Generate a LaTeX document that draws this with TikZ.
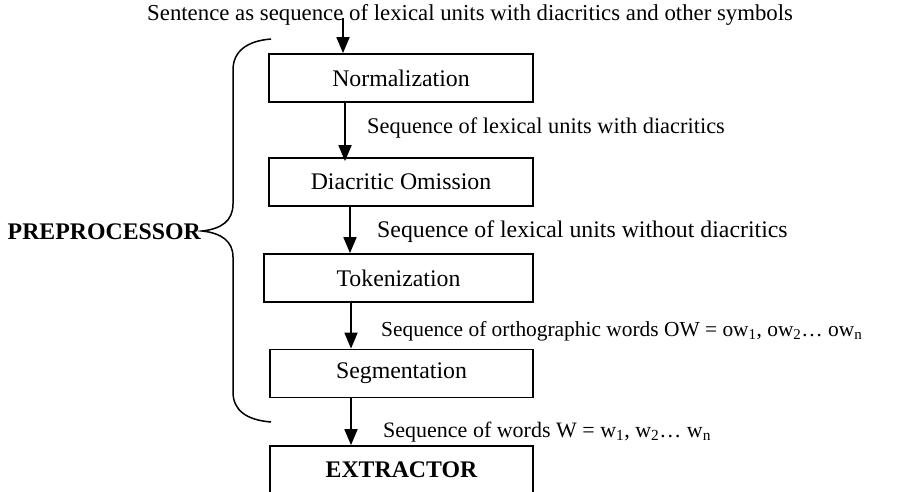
\documentclass[tikz,border=0pt]{standalone}
\usepackage{fontspec}
\setmainfont{Liberation Serif}
\usetikzlibrary{arrows.meta}
\begin{document}
\begin{tikzpicture}[x=1pt,y=-1pt,
  textsize/.style={font=\fontsize{23.8}{28}\selectfont},
  stagebox/.style={draw,line width=1.8pt,rectangle,inner sep=0pt,
    minimum height=48pt,textsize},
  flowarrow/.style={line width=1.8pt,-{Triangle[length=16pt,width=13pt]}},
  flowlabel/.style={anchor=base west,inner sep=0pt}]
\useasboundingbox (0,0) rectangle (923,492);
\begin{scope}
\clip (0,0) rectangle (923,492);

% processing stages
\node[stagebox,minimum width=264pt] (norm) at (401,78) {Normalization};
\node[stagebox,minimum width=264pt] (diac) at (401,182) {Diacritic Omission};
\node[stagebox,minimum width=269pt] (tok)  at (398.5,278) {Tokenization};
\node[stagebox,minimum width=263pt] (seg)  at (401.5,373.5) {Segmentation};
\node[stagebox,minimum width=263pt] (ext)  at (401.5,470) {\bfseries EXTRACTOR};

% data passed between stages
\node[flowlabel,font=\fontsize{22.8}{27}\selectfont] (in) at (147,21)
  {Sentence as sequence of lexical units with diacritics and other symbols};
\node[flowlabel,font=\fontsize{22.4}{26}\selectfont] (l1) at (367,133)
  {Sequence of lexical units with diacritics};
\node[flowlabel,font=\fontsize{23.8}{28}\selectfont] (l2) at (377,237)
  {Sequence of lexical units without diacritics};
\node[flowlabel,font=\fontsize{21.4}{25}\selectfont] (l3) at (381,336)
  {Sequence of orthographic words OW = ow\textsubscript{1}, ow\textsubscript{2}… ow\textsubscript{n}};
\node[flowlabel,font=\fontsize{22}{26}\selectfont] (l4) at (383,437)
  {Sequence of words W = w\textsubscript{1}, w\textsubscript{2}… w\textsubscript{n}};

% arrow columns
\coordinate (c0) at (343,18);
\coordinate (c1) at (345,0);
\coordinate (c2) at (350,0);
\coordinate (c3) at (351,0);
\coordinate (c4) at (351,0);

\draw[flowarrow] (c0) -- (norm.north -| c0);
\draw[flowarrow] (norm.south -| c1) -- ([yshift=-4pt]diac.north -| c1);
\draw[flowarrow] (diac.south -| c2) -- (tok.north -| c2);
\draw[flowarrow] (tok.south -| c3) -- (seg.north -| c3);
\draw[flowarrow] (seg.south -| c4) -- (ext.north -| c4);

% preprocessor group
\node[anchor=base east,inner sep=0pt,font=\fontsize{23.8}{28}\selectfont\bfseries] (pre) at (201,239) {PREPROCESSOR};
\coordinate (tip) at (202,231);
\draw[line width=1.5pt] (271,39) .. controls (246,41) and (233,52) .. (233,70)
  -- (233,204) .. controls (233,221) and (221,229) .. (tip)
  .. controls (221,233) and (233,241) .. (233,257)
  -- (233,392) .. controls (233,410) and (246,420) .. (271,422);
\end{scope}
\end{tikzpicture}
\end{document}
